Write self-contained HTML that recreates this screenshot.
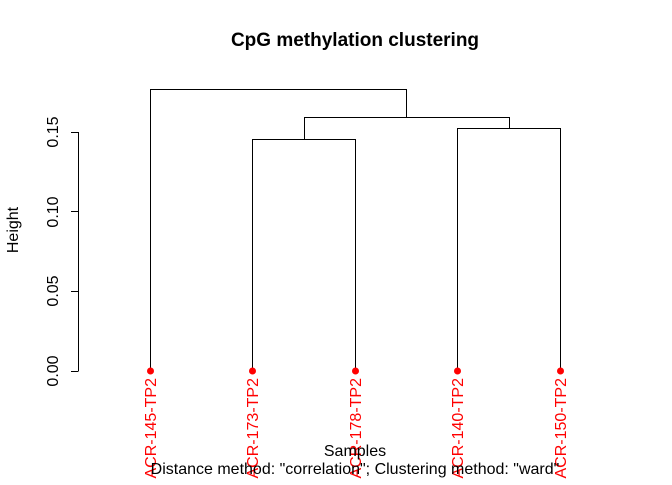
<!DOCTYPE html>
<html><head><style>body{margin:0;background:#fff}</style></head><body>
<svg width="672" height="480" xmlns="http://www.w3.org/2000/svg" font-family="Liberation Sans, sans-serif">
<rect width="672" height="480" fill="#fff"/>
<text x="355" y="46" text-anchor="middle" font-size="19" font-weight="bold">CpG methylation clustering</text>
<g stroke="#000" stroke-width="1" fill="none">
<line x1="78.5" y1="132" x2="78.5" y2="371"/>
<line x1="71" y1="371.5" x2="78.5" y2="371.5"/>
<line x1="71" y1="291.5" x2="78.5" y2="291.5"/>
<line x1="71" y1="211.5" x2="78.5" y2="211.5"/>
<line x1="71" y1="132.5" x2="78.5" y2="132.5"/>
<polyline points="150.5,371 150.5,89.5 406.5,89.5 406.5,117"/>
<polyline points="304.5,139 304.5,117.5 509.5,117.5 509.5,128"/>
<polyline points="252.5,371 252.5,139.5 355.5,139.5 355.5,371"/>
<polyline points="457.5,371 457.5,128.5 560.5,128.5 560.5,371"/>
</g>
<g font-size="16" text-anchor="middle">
<text transform="translate(58,371) rotate(-90)">0.00</text>
<text transform="translate(58,291) rotate(-90)">0.05</text>
<text transform="translate(58,212) rotate(-90)">0.10</text>
<text transform="translate(58,132) rotate(-90)">0.15</text>
<text transform="translate(18,230) rotate(-90)">Height</text>
</g>
<g fill="red">
<circle cx="150.5" cy="371" r="3.5"/><circle cx="252.5" cy="371" r="3.5"/><circle cx="355.5" cy="371" r="3.5"/><circle cx="457.5" cy="371" r="3.5"/><circle cx="560.5" cy="371" r="3.5"/>
</g>
<g font-size="16" fill="red" text-anchor="end">
<text transform="translate(156,378) rotate(-90)">ACR-145-TP2</text>
<text transform="translate(258,378) rotate(-90)">ACR-173-TP2</text>
<text transform="translate(361,378) rotate(-90)">ACR-178-TP2</text>
<text transform="translate(463,378) rotate(-90)">ACR-140-TP2</text>
<text transform="translate(566,378) rotate(-90)">ACR-150-TP2</text>
</g>
<g font-size="16" text-anchor="middle">
<text x="355" y="456">Samples</text>
<text x="355" y="474">Distance method: "correlation"; Clustering method: "ward"</text>
</g>
</svg>
</body></html>
